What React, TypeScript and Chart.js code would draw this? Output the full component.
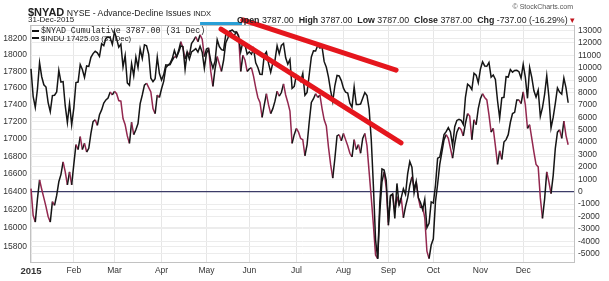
import React, { useEffect, useRef } from "react";
import { Chart, registerables } from "chart.js";

Chart.register(...registerables);

// ---- axis ticks / labels ----
const monthLabels = ["2015", "Feb", "Mar", "Apr", "May", "Jun", "Jul", "Aug", "Sep", "Oct", "Nov", "Dec"];
const monthStarts = [0, 20, 39, 61, 82, 102, 124, 146, 167, 188, 210, 230];
const induTicks = [15800, 16000, 16200, 16400, 16600, 16800, 17000, 17200, 17400, 17600, 17800, 18000, 18200];
const nyadTicks = [-5000, -4000, -3000, -2000, -1000, 0, 1000, 2000, 3000, 4000, 5000, 6000, 7000, 8000, 9000, 10000, 11000, 12000, 13000];

// ---- $INDU daily closes (left axis, log) ----
const induJan = [17833, 17501, 17371, 17585, 17908, 17737, 17640, 17613, 17427, 17321, 17511, 17515, 17554, 17813, 17672, 17678, 17387, 17191, 17416, 17165];
const induFeb = [17361, 17667, 17673, 17885, 17824, 17729, 17868, 17862, 17973, 18019, 18047, 18029, 17986, 18140, 18117, 18209, 18225, 18214, 18133];
const induMar = [18288, 18204, 18097, 18136, 17857, 17996, 17662, 17635, 17895, 17749, 17977, 17849, 18076, 17959, 18128, 18116, 18011, 17719, 17678, 17713, 17977, 17776];
const induApr = [17698, 17763, 17881, 17876, 17902, 17958, 18058, 17977, 18037, 18113, 18106, 17826, 18034, 17950, 18039, 18058, 18080, 18038, 18110, 18036, 17841];
const induMay = [18025, 18071, 17929, 17842, 17925, 18191, 18106, 18068, 18061, 18253, 18273, 18299, 18313, 18286, 18286, 18232, 18042, 18163, 18127, 18011];
const induJun = [18041, 18012, 18077, 17906, 17849, 17767, 17765, 18001, 18039, 17899, 17792, 17905, 17935, 18116, 18016, 18120, 18144, 17967, 17890, 17947, 17597, 17620];
const induJul = [17758, 17731, 17684, 17777, 17515, 17549, 17761, 17977, 18054, 18051, 18121, 18087, 18101, 17920, 17852, 17732, 17569, 17441, 17631, 17752, 17746, 17690];
const induAug = [17599, 17550, 17540, 17420, 17373, 17615, 17403, 17403, 17409, 17478, 17546, 17512, 17349, 16991, 16460, 15871, 15666, 16285, 16655, 16643, 16528];
const induSep = [16059, 16351, 16374, 16102, 16492, 16254, 16330, 16433, 16370, 16599, 16740, 16675, 16385, 16511, 16331, 16280, 16201, 16315, 16002, 16049, 16285];
const induOct = [16272, 16472, 16777, 16791, 16913, 17051, 17085, 17132, 17082, 16925, 17142, 17216, 17230, 17218, 17169, 17490, 17647, 17624, 17582, 17780, 17756, 17664];
const induNov = [17829, 17919, 17868, 17864, 17910, 17731, 17758, 17703, 17449, 17245, 17483, 17490, 17738, 17733, 17824, 17792, 17813, 17814, 17798, 17720];
const induDec = [17888, 17730, 17478, 17848, 17730, 17568, 17493, 17575, 17265, 17368, 17525, 17750, 17495, 17128, 17252, 17418, 17603, 17553, 17528, 17721, 17604, 17425];

// ---- $NYAD cumulative (right axis) ----
const nyadJan = [250, -1900, -2450, -600, 950, 200, -500, -1200, -2000, -2450, -800, -1100, -300, 800, 1400, 2400, 1600, 550, 1600, 550];
const nyadFeb = [2200, 3800, 3400, 4450, 3400, 3900, 3200, 3500, 4700, 5650, 5800, 5350, 6200, 6600, 7150, 7400, 7550, 8050, 7800];
const nyadMar = [8100, 7900, 7350, 7300, 5900, 5400, 4500, 3900, 5600, 4600, 5000, 5500, 7100, 7800, 8600, 8750, 8400, 8050, 6700, 6300, 7800, 7600];
const nyadApr = [8300, 8900, 10000, 10200, 10250, 10600, 10900, 10850, 11400, 12100, 11600, 10700, 11300, 11000, 11950, 12200, 12500, 12100, 12650, 12300, 10900];
const nyadMay = [11500, 11600, 9700, 8500, 9900, 10900, 10300, 9700, 10600, 12000, 12400, 13000, 12700, 12600, 12900, 12600, 9700, 11000, 10600, 9700];
const nyadJun = [9900, 10000, 9300, 8400, 7600, 7200, 6000, 7000, 7900, 7000, 6300, 6700, 7300, 8100, 7700, 8000, 8700, 7800, 7200, 6500, 3900, 4600];
const nyadJul = [5100, 4800, 4300, 4200, 2900, 3800, 5600, 7200, 7500, 7900, 7600, 7800, 6700, 5800, 5300, 3600, 2200, 1100, 2700, 4500, 4600, 4100];
const nyadAug = [4700, 4200, 3700, 3100, 2800, 4200, 3400, 3800, 3100, 4300, 4700, 3700, 1600, -500, -2700, -5100, -5400, -1600, 800, 1600, 300];
const nyadSep = [-2700, -300, -200, -1600, -400, -1100, -500, -2100, -1200, -500, 500, 1200, 300, 800, -500, -1300, -1200, -2100, -4800, -5400, -4300];
const nyadOct = [-3800, -800, 600, 2200, 3200, 4200, 4600, 4300, 3500, 2700, 3900, 4800, 5200, 5000, 4500, 5500, 6300, 6100, 4200, 5800, 5400, 6700];
const nyadNov = [7500, 7900, 7600, 7400, 6200, 4800, 5100, 3700, 2200, 3300, 2600, 4000, 4200, 4600, 5600, 6300, 6400, 7400, 7400, 7100];
const nyadDec = [8050, 7000, 5100, 5400, 4300, 3200, 2200, 2000, -500, -2150, -600, 1600, 800, -150, 1300, 3500, 4800, 5000, 4300, 5700, 4524, 3787];

// ---- hand-drawn annotations (trading-day index, $NYAD value) ----
const upperTrendX = [99, 170.6];
const upperTrendY = [13850, 9810];
const lowerTrendX = [88.8, 172.9];
const lowerTrendY = [13120, 3930];
const markerX = [79, 98.6];
const markerY = [13560, 13560];

const induValues = [
  ...induJan, ...induFeb, ...induMar, ...induApr, ...induMay, ...induJun,
  ...induJul, ...induAug, ...induSep, ...induOct, ...induNov, ...induDec,
];
const nyadValues = [
  ...nyadJan, ...nyadFeb, ...nyadMar, ...nyadApr, ...nyadMay, ...nyadJun,
  ...nyadJul, ...nyadAug, ...nyadSep, ...nyadOct, ...nyadNov, ...nyadDec,
];

const SANS = '"Liberation Sans", Arial, sans-serif';
const MAROON = "#93284f";

const framePlugin = {
  id: "frame",
  beforeDatasetsDraw(chart: any) {
    const { ctx, chartArea: a } = chart;
    ctx.save();
    ctx.strokeStyle = "#c2c2c2";
    ctx.lineWidth = 1;
    ctx.strokeRect(a.left + 0.5, a.top + 0.5, a.right - a.left - 1, a.bottom - a.top - 1);
    ctx.restore();
  },
};

export default function App() {
  const canvasRef = useRef<HTMLCanvasElement | null>(null);

  useEffect(() => {
    document.body.style.margin = "0";
    document.body.style.background = "#fff";
    const canvas = canvasRef.current;
    if (!canvas) return;
    const pairs = (xs: number[], ys: number[]) => xs.map((x, i) => ({ x, y: ys[i] }));
    const chart = new Chart(canvas, {
      type: "line",
      data: {
        datasets: [
          {
            label: "trend1",
            data: pairs(upperTrendX, upperTrendY),
            yAxisID: "yR",
            borderColor: "#e5161d",
            borderWidth: 5,
            borderCapStyle: "round",
            pointRadius: 0,
            clip: false,
          } as any,
          {
            label: "trend2",
            data: pairs(lowerTrendX, lowerTrendY),
            yAxisID: "yR",
            borderColor: "#e5161d",
            borderWidth: 5,
            borderCapStyle: "round",
            pointRadius: 0,
            clip: false,
          },
          {
            label: "marker",
            data: pairs(markerX, markerY),
            yAxisID: "yR",
            borderColor: "#2a9fd6",
            borderWidth: 3,
            pointRadius: 0,
            clip: false,
          },
          {
            label: "$INDU",
            data: induValues.map((v, i) => ({ x: i, y: v })),
            yAxisID: "yL",
            borderColor: "#151515",
            borderWidth: 1.5,
            pointRadius: 0,
            tension: 0,
          },
          {
            label: "$NYAD Cumulative",
            data: nyadValues.map((v, i) => ({ x: i, y: v })),
            yAxisID: "yR",
            borderColor: MAROON,
            borderWidth: 1.5,
            pointRadius: 0,
            tension: 0,
            segment: {
              borderColor: (c: any) => (c.p1.parsed.y >= c.p0.parsed.y ? "#151515" : MAROON),
            },
          },
        ],
      },
      options: {
        responsive: false,
        animation: false,
        events: [],
        layout: { padding: { top: 25, left: 0, right: 0, bottom: 0 } },
        plugins: { legend: { display: false }, tooltip: { enabled: false }, title: { display: false } },
        scales: {
          x: {
            type: "linear",
            min: -0.47,
            max: 254.2,
            afterBuildTicks: (s: any) => {
              s.ticks = monthStarts.map((v) => ({ value: v }));
            },
            afterFit: (s: any) => {
              s.height = 18;
            },
            ticks: {
              autoSkip: false,
              maxRotation: 0,
              padding: 3,
              color: "#333",
              callback: (_v: any, i: number) => monthLabels[i],
              font: (c: any) => ({ family: SANS, size: c.index === 0 ? 9.5 : 8.5, weight: c.index === 0 ? "bold" : "normal" }),
            },
            grid: { color: "#e6e6e6", drawTicks: false },
            border: { display: false },
          },
          yL: {
            type: "logarithmic",
            position: "left",
            min: 15621,
            max: 18374,
            afterBuildTicks: (s: any) => {
              s.ticks = induTicks.map((v) => ({ value: v }));
            },
            afterFit: (s: any) => {
              s.width = 30;
            },
            ticks: {
              padding: 3,
              color: "#333",
              font: { family: SANS, size: 8.5 },
              callback: (v: any) => String(v),
            },
            grid: { color: "#ececec", drawTicks: false },
            border: { display: false },
          },
          yR: {
            type: "linear",
            position: "right",
            min: -5750,
            max: 13444,
            afterBuildTicks: (s: any) => {
              s.ticks = nyadTicks.map((v) => ({ value: v }));
            },
            afterFit: (s: any) => {
              s.width = 34;
            },
            ticks: {
              padding: 3,
              color: "#333",
              font: { family: SANS, size: 8.5 },
              callback: (v: any) => String(v),
            },
            grid: {
              drawTicks: false,
              color: (c: any) => (c.tick && c.tick.value === 0 ? "#3c3c68" : "#ececec"),
              lineWidth: (c: any) => (c.tick && c.tick.value === 0 ? 1.3 : 1),
            },
            border: { display: false },
          },
        },
      },
      plugins: [framePlugin],
    } as any);
    return () => chart.destroy();
  }, []);

  const abs: React.CSSProperties = { position: "absolute", whiteSpace: "nowrap", lineHeight: 1, pointerEvents: "none" };

  return (
    <div style={{ position: "relative", width: 609, height: 281, background: "#fff", fontFamily: SANS, color: "#222" }}>
      <canvas ref={canvasRef} width={609} height={281} style={{ display: "block" }} />
      <div style={{ ...abs, left: 28, top: 3 }}>
        <span style={{ fontWeight: "bold", fontSize: 11 }}>$NYAD</span>
        <span style={{ fontSize: 8.7 }}> NYSE - Advance-Decline Issues </span>
        <span style={{ fontSize: 7.5 }}>INDX</span>
      </div>
      <div style={{ ...abs, left: 28, top: 16, fontSize: 8 }}>31-Dec-2015</div>
      <div style={{ ...abs, left: 237, top: 15.5, fontSize: 8.8 }}>
        <b>Open</b> 3787.00&nbsp; <b>High</b> 3787.00&nbsp; <b>Low</b> 3787.00&nbsp; <b>Close</b> 3787.00&nbsp; <b>Chg</b> -737.00 (-16.29%){" "}
        <span style={{ color: "#c0141c" }}>▾</span>
      </div>
      <div style={{ ...abs, right: 36, top: 3, fontSize: 7, color: "#555" }}>© StockCharts.com</div>
      <div style={{ ...abs, left: 32, top: 27, fontSize: 8.3, fontFamily: '"Liberation Mono", monospace' }}>
        <span style={{ display: "inline-block", width: 7, height: 2, background: "#111", verticalAlign: "middle", marginRight: 2 }} />
        $NYAD Cumulative 3787.00 (31 Dec)
      </div>
      <div style={{ ...abs, left: 32, top: 34.5, fontSize: 7.8 }}>
        <span style={{ display: "inline-block", width: 7, height: 2, background: "#111", verticalAlign: "middle", marginRight: 2 }} />
        $INDU 17425.03 (31 Dec)
      </div>
    </div>
  );
}
